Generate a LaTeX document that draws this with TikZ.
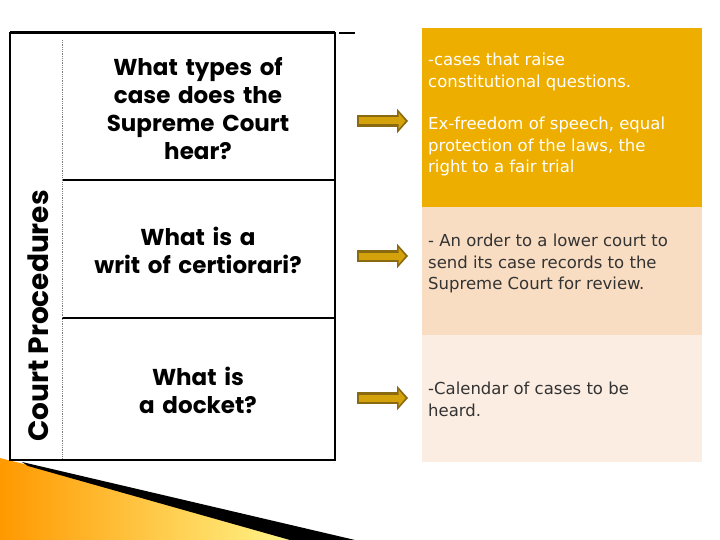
\documentclass[tikz,border=0pt]{standalone}
\usepackage{fontspec}
\setmainfont{DejaVu Sans}
\newfontfamily\qfont{Poppins}[BoldFont={* Bold}]
\usetikzlibrary{arrows.meta,calc}
\definecolor{gold}{HTML}{EEAE00}
\definecolor{peach}{HTML}{F8DDC3}
\definecolor{cream}{HTML}{FBEDE2}
\definecolor{arrowgold}{HTML}{D4A20A}
\definecolor{arrowedge}{HTML}{8A6A10}
\tikzset{
  q/.style={font=\qfont\bfseries\fontsize{23}{28}\selectfont, align=center, text width=280pt},
  ans/.style={font=\fontsize{16.5}{21.5}\selectfont, align=left, anchor=north west, inner sep=0pt},
  fat/.style={-{Triangle[length=11pt,width=24pt]}, line width=12pt, draw=arrowedge},
  fatin/.style={-{Triangle[length=7pt,width=16pt]}, line width=7pt, draw=arrowgold},
}
\begin{document}
\begin{tikzpicture}[x=1pt,y=-1pt]
\useasboundingbox (0,0) rectangle (720,540);
\fill[white] (0,0) rectangle (720,540);
% bottom-left decoration
\shade[left color=orange!80!yellow, right color=yellow!40!white] (0,458) -- (325,540) -- (0,540) -- cycle;
\fill[black] (22,462) -- (355,540) -- (290,540) -- (28,466) -- cycle;
% left panel
\draw[line width=1.5pt] (10,33) rectangle (335,460);
\draw[line width=3pt] (10,33) -- (335,33);
\draw[line width=2pt] (339,33) -- (355,33);
\draw[line width=2.5pt] (335,33) -- (335,460);
\draw[line width=2pt] (62,180) -- (335,180);
\draw[line width=2pt] (62,318) -- (335,318);
\draw[densely dotted, gray, line width=0.8pt] (62,40) -- (62,458);
\node[rotate=90, font=\qfont\bfseries\fontsize{28}{30}\selectfont] (title) at (38,316) {Court Procedures};
\node[q] (q1) at (198,109) {What types of\\case does the\\Supreme Court\\hear?};
\node[q] (q2) at (198,250) {What is a\\writ of certiorari?};
\node[q] (q3) at (198,390) {What is\\a docket?};
% right boxes
\fill[gold] (422,28) rectangle (702,207);
\fill[peach] (422,207) rectangle (702,335);
\fill[cream] (422,335) rectangle (702,462);
\node[ans, text=white] (a1) at (428,53) {-cases that raise\\constitutional questions.\\[21pt]Ex-freedom of speech, equal\\protection of the laws, the\\right to a fair trial};
\node[ans, text=black!80] (a2) at (428,234) {- An order to a lower court to\\send its case records to the\\Supreme Court for review.};
\node[ans, text=black!80] (a3) at (428,382) {-Calendar of cases to be\\heard.};
% arrows
\foreach \y/\n in {121/1,256/2,398/3}{
  \coordinate (s\n) at (357,\y); \coordinate (e\n) at (408,\y);
  \draw[fat] (s\n) -- (e\n);
  \draw[fatin] ($(s\n)+(2,0)$) -- ($(e\n)+(-2.5,0)$);
}
\end{tikzpicture}
\end{document}
